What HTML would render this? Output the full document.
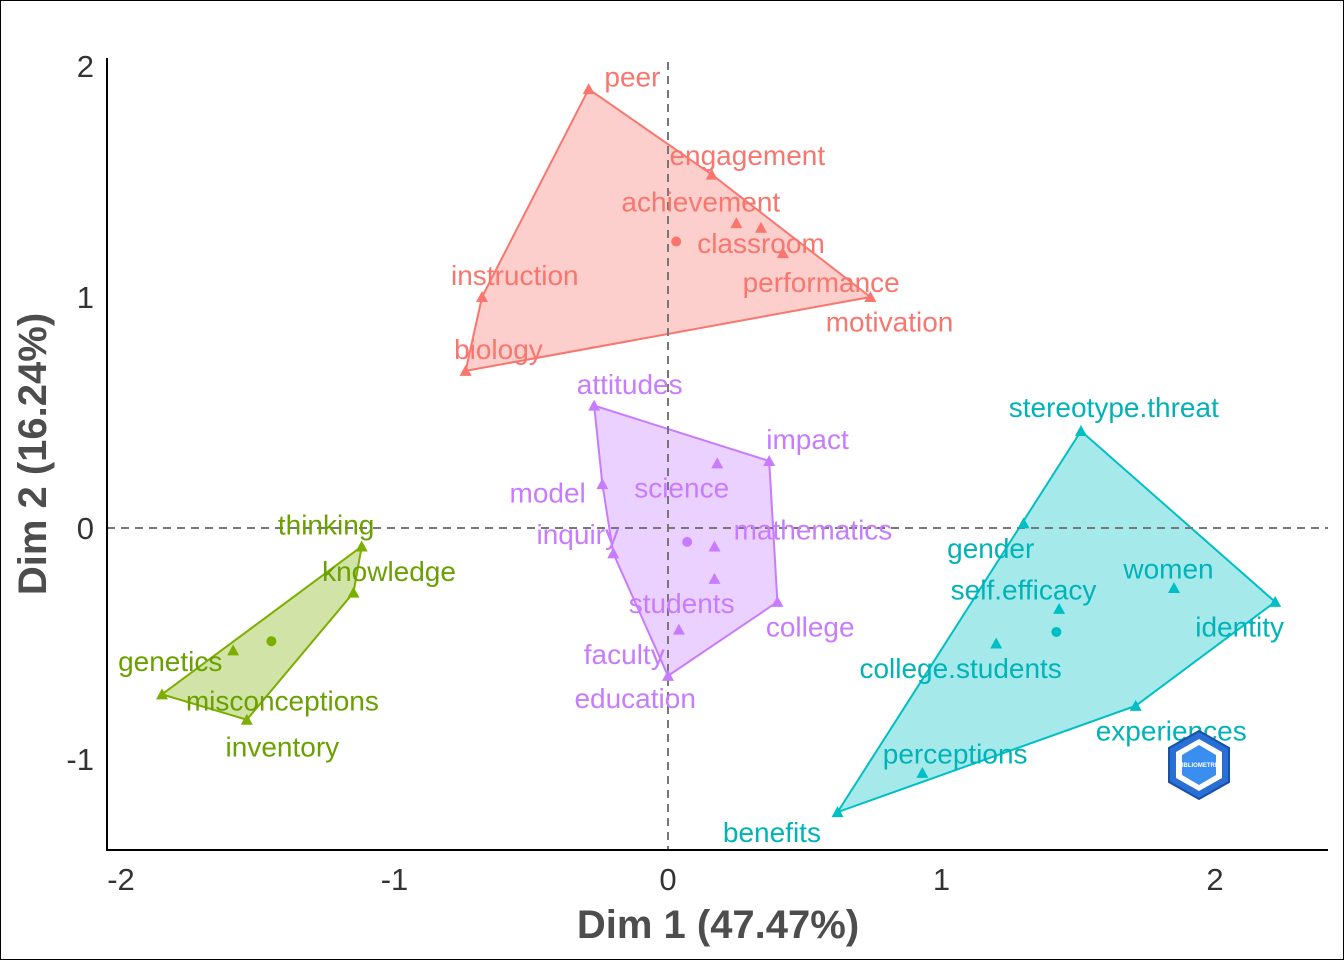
<!DOCTYPE html>
<html><head><meta charset="utf-8"><style>
html,body{margin:0;padding:0;background:#fff}
svg{display:block;font-family:"Liberation Sans",Arial,sans-serif}
</style></head><body>
<svg id="chart" width="1344" height="960" viewBox="0 0 1344 960">
<rect x="0.5" y="0.5" width="1343" height="959" fill="#fff" stroke="#000"/>
<g id="hulls"></g>
<g id="ref"></g>
<g id="marks"></g>
<g id="labels"></g>
<g id="axes"></g>
<g transform="translate(1199,765)">
<polygon points="0,-34 30,-17 30,17 0,34 -30,17 -30,-17" fill="#2a6fd6" stroke="#1a4fa6" stroke-width="2"/>
<polygon points="0,-26 23,-13 23,13 0,26 -23,13 -23,-13" fill="#fff"/>
<polygon points="0,-20 17,-10 17,10 0,20 -17,10 -17,-10" fill="#3a8ef0"/>
<text x="0" y="2" font-size="6" fill="#fff" text-anchor="middle" font-weight="bold">BIBLIOMETRIX</text>
</g>
<text x="718" y="938" font-size="40" font-weight="bold" fill="#4d4d4d" text-anchor="middle">Dim 1 (47.47%)</text>
<text transform="translate(46,454) rotate(-90)" font-size="40" font-weight="bold" fill="#4d4d4d" text-anchor="middle">Dim 2 (16.24%)</text>
</svg>
<script>
const clusterNames=["red","purple","green","teal"];
const clusterColors=["#F8766D","#C77CFF","#7CAE00","#00BFC4"];
const textColors=["#F8766D","#C77CFF","#6aa000","#00B3B8"];
const terms=[
["peer","engagement","achievement","classroom","performance","motivation","instruction","biology"],
["attitudes","impact","science","model","inquiry","mathematics","students","college","faculty","education"],
["thinking","knowledge","genetics","misconceptions","inventory"],
["stereotype.threat","gender","women","identity","self.efficacy","college.students","experiences","perceptions","benefits"]];
const dim1=[
[-0.29,0.16,0.25,0.34,0.42,0.74,-0.68,-0.74],
[-0.27,0.37,0.18,-0.24,-0.20,0.17,0.17,0.40,0.04,0.00],
[-1.12,-1.15,-1.59,-1.85,-1.54],
[1.51,1.30,1.85,2.22,1.43,1.20,1.71,0.93,0.62]];
const dim2=[
[1.90,1.53,1.32,1.30,1.19,1.00,1.00,0.68],
[0.53,0.29,0.28,0.19,-0.11,-0.08,-0.22,-0.32,-0.44,-0.64],
[-0.08,-0.28,-0.53,-0.72,-0.83],
[0.42,0.02,-0.26,-0.32,-0.35,-0.50,-0.77,-1.06,-1.23]];
const labelX=[
[-0.13,0.29,0.12,0.34,0.56,0.81,-0.56,-0.62],
[-0.14,0.51,0.05,-0.44,-0.33,0.53,0.05,0.52,-0.16,-0.12],
[-1.25,-1.02,-1.82,-1.41,-1.41],
[1.63,1.18,1.83,2.09,1.30,1.07,1.84,1.05,0.38]];
const labelY=[
[1.95,1.61,1.41,1.23,1.06,0.89,1.09,0.77],
[0.62,0.38,0.17,0.15,-0.03,-0.01,-0.33,-0.43,-0.55,-0.74],
[0.01,-0.19,-0.58,-0.75,-0.95],
[0.52,-0.09,-0.18,-0.43,-0.27,-0.61,-0.88,-0.98,-1.32]];
const centroidX=[0.03,0.07,-1.45,1.42];
const centroidY=[1.24,-0.06,-0.49,-0.45];
const xTicks=[-2,-1,0,1,2];
const yTicks=[-1,0,1,2];

const NS="http://www.w3.org/2000/svg";
const sx=v=>668+v*273.5;
const sy=v=>528-v*231;
function mk(tag,attrs,parent){const e=document.createElementNS(NS,tag);for(const k in attrs)e.setAttribute(k,attrs[k]);parent.appendChild(e);return e;}
function hull(pts){pts=pts.slice().sort((a,b)=>a[0]-b[0]||a[1]-b[1]);const cr=(o,a,b)=>(a[0]-o[0])*(b[1]-o[1])-(a[1]-o[1])*(b[0]-o[0]);const lo=[],up=[];for(const p of pts){while(lo.length>=2&&cr(lo[lo.length-2],lo[lo.length-1],p)<=0)lo.pop();lo.push(p);}for(const p of pts.slice().reverse()){while(up.length>=2&&cr(up[up.length-2],up[up.length-1],p)<=0)up.pop();up.push(p);}up.pop();lo.pop();return lo.concat(up);}
const gH=document.getElementById('hulls'),gR=document.getElementById('ref'),gM=document.getElementById('marks'),gL=document.getElementById('labels'),gA=document.getElementById('axes');
clusterNames.forEach((c,i)=>{
  const pts=dim1[i].map((x,j)=>[sx(x),sy(dim2[i][j])]);
  const h=hull(pts);
  const p=mk('polygon',{points:h.map(q=>q.join(',')).join(' '),fill:clusterColors[i],'fill-opacity':0.35,stroke:clusterColors[i],'stroke-width':2},gH);
  
  
});
const v=mk('line',{x1:sx(0),x2:sx(0),y1:62,y2:850,stroke:'#777','stroke-width':2,'stroke-dasharray':'8,6'},gR);


const hz=mk('line',{x1:107,x2:1328,y1:sy(0),y2:sy(0),stroke:'#777','stroke-width':2,'stroke-dasharray':'8,6'},gR);


clusterNames.forEach((c,i)=>{
  dim1[i].forEach((x,j)=>{
    const px=sx(x),py=sy(dim2[i][j]);
    const t=mk('polygon',{points:`${px},${py-6} ${px+6},${py+5} ${px-6},${py+5}`,fill:clusterColors[i]},gM);
    
    
    const l=mk('text',{x:sx(labelX[i][j]),y:sy(labelY[i][j])+9,'font-size':28,fill:textColors[i],'text-anchor':'middle'},gL);
    l.textContent=terms[i][j];
    
    
  });
  const cc=mk('circle',{cx:sx(centroidX[i]),cy:sy(centroidY[i]),r:5,fill:clusterColors[i]},gM);
  
  
});
const ax=mk('line',{x1:107,x2:1328,y1:850,y2:850,stroke:'#000','stroke-width':2},gA);


const ay=mk('line',{x1:107,x2:107,y1:58,y2:851,stroke:'#000','stroke-width':2},gA);


xTicks.forEach(t=>{
  const e=mk('text',{x:sx(t),y:890,'font-size':31,fill:'#333','text-anchor':'middle'},gA);
  e.textContent=t;
  
  
});
yTicks.forEach(t=>{
  const e=mk('text',{x:94,y:sy(t)+11,'font-size':31,fill:'#333','text-anchor':'end'},gA);
  e.textContent=t;
  
  
});
</script>
</body></html>
